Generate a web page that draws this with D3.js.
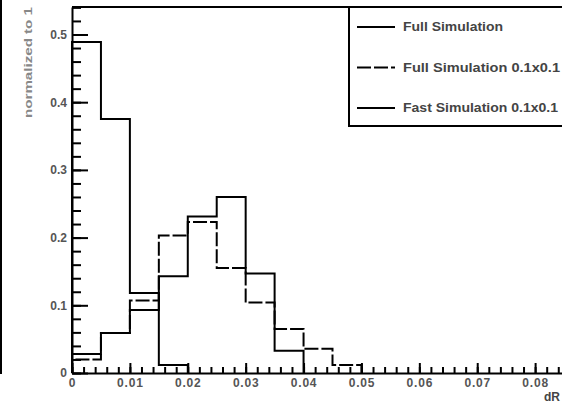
<!DOCTYPE html>
<html>
<head>
<meta charset="utf-8">
<script src="https://d3js.org/d3.v7.min.js"></script>
<style>
    body { margin: 0; background: #fff; }
    svg { display: block; }
    .axis path, .axis line { stroke: #000; stroke-width: 2px; }
    .axis text { font-family: "Liberation Sans", Arial, sans-serif; font-size: 12px; font-weight: bold; fill: #555; }
    .hist { fill: none; stroke: #000; stroke-width: 2px; }
</style>
</head>
<body>
<svg id="chart" width="562" height="405"></svg>
<script>
// bins of 0.005 in dR, starting at 0
var binWidth = 0.005;
var fullSim = [0.489, 0.375, 0.118, 0.012];
var fullSim01 = [0.020, 0.059, 0.107, 0.203, 0.223, 0.155, 0.104, 0.065, 0.036, 0.012];
var fastSim01 = [0.028, 0.059, 0.093, 0.143, 0.231, 0.260, 0.147, 0.033];

var series = [
    { name: "Full Simulation", values: fullSim, dash: null },
    { name: "Full Simulation 0.1x0.1", values: fullSim01, dash: "14,3" },
    { name: "Fast Simulation 0.1x0.1", values: fastSim01, dash: null }
];
var legendWidths = [100, 157, 155];

var xTicks = [0, 0.01, 0.02, 0.03, 0.04, 0.05, 0.06, 0.07, 0.08];
var xTickLabels = ["0", "0.01", "0.02", "0.03", "0.04", "0.05", "0.06", "0.07", "0.08"];
var yTicks = [0, 0.1, 0.2, 0.3, 0.4, 0.5];
var yTickLabels = ["0", "0.1", "0.2", "0.3", "0.4", "0.5"];

var svg = d3.select("#chart");

var x = d3.scaleLinear().domain([0, 0.09]).range([72, 593]);
var y = d3.scaleLinear().domain([0, 0.5406]).range([373, 7]);

// piece of the neighbouring pad on the left
svg.append("line")
    .attr("x1", 1).attr("x2", 1)
    .attr("y1", 0).attr("y2", 374)
    .attr("stroke", "#000")
    .attr("stroke-width", 2);

// frame top
svg.append("line")
    .attr("x1", x(0)).attr("x2", x(0.09))
    .attr("y1", y(0.5406)).attr("y2", y(0.5406))
    .attr("stroke", "#000")
    .attr("stroke-width", 2);

var line = d3.line()
    .x(function(d) { return x(d[0]); })
    .y(function(d) { return y(d[1]); });

function steps(values) {
    var pts = [[0, 0]];
    values.forEach(function(v, i) {
        pts.push([i * binWidth, v]);
        pts.push([(i + 1) * binWidth, v]);
    });
    pts.push([values.length * binWidth, 0]);
    return pts;
}

svg.append("g")
    .selectAll("path")
    .data(series)
    .enter().append("path")
    .attr("class", "hist")
    .attr("d", function(d) { return line(steps(d.values)); })
    .attr("stroke-dasharray", function(d) { return d.dash; });

// minor ticks
svg.append("g")
    .attr("class", "axis")
    .attr("transform", "translate(0," + y(0) + ")")
    .call(d3.axisBottom(x)
        .tickValues(d3.range(0, 0.0901, 0.002))
        .tickSizeInner(-6).tickSizeOuter(0)
        .tickFormat(""))
    .select(".domain").remove();

svg.append("g")
    .attr("class", "axis")
    .attr("transform", "translate(" + x(0) + ",0)")
    .call(d3.axisLeft(y)
        .tickValues(d3.range(0, 0.5401, 0.02))
        .tickSizeInner(-9).tickSizeOuter(0)
        .tickFormat(""))
    .select(".domain").remove();

// major ticks and labels
svg.append("g")
    .attr("class", "axis")
    .attr("transform", "translate(0," + y(0) + ")")
    .call(d3.axisBottom(x)
        .tickValues(xTicks)
        .tickSizeInner(-10).tickSizeOuter(0)
        .tickPadding(5)
        .tickFormat(function(d, i) { return xTickLabels[i]; }))
    .selectAll("text")
    .style("letter-spacing", "0.8px");

svg.append("g")
    .attr("class", "axis")
    .attr("transform", "translate(" + x(0) + ",0)")
    .call(d3.axisLeft(y)
        .tickValues(yTicks)
        .tickSizeInner(-16).tickSizeOuter(0)
        .tickPadding(5)
        .tickFormat(function(d, i) { return yTickLabels[i]; }));

// axis titles
svg.append("text")
    .attr("transform", "translate(32,7) rotate(-90)")
    .attr("text-anchor", "end")
    .attr("textLength", 111)
    .attr("lengthAdjust", "spacingAndGlyphs")
    .style("font-family", "Liberation Sans, Arial, sans-serif")
    .style("font-size", "11px")
    .style("font-weight", "bold")
    .style("fill", "#888")
    .text("normalized to 1");

svg.append("text")
    .attr("x", 560)
    .attr("y", 401)
    .attr("text-anchor", "end")
    .style("font-family", "Liberation Sans, Arial, sans-serif")
    .style("font-size", "12px")
    .style("font-weight", "bold")
    .style("fill", "#444")
    .text("dR");

// legend
var legend = svg.append("g");
legend.append("rect")
    .attr("x", 349)
    .attr("y", 7)
    .attr("width", 260)
    .attr("height", 119)
    .attr("fill", "#fff")
    .attr("stroke", "#000")
    .attr("stroke-width", 2);

var rows = legend.selectAll("g.row")
    .data(series)
    .enter().append("g")
    .attr("class", "row")
    .attr("transform", function(d, i) { return "translate(0," + (27 + i * 40.5) + ")"; });

rows.append("line")
    .attr("x1", 357).attr("x2", 395)
    .attr("y1", 0).attr("y2", 0)
    .attr("stroke", "#000")
    .attr("stroke-width", 2)
    .attr("stroke-dasharray", function(d) { return d.dash; });

rows.append("text")
    .attr("x", 403)
    .attr("dy", "0.35em")
    .attr("textLength", function(d, i) { return legendWidths[i]; })
    .attr("lengthAdjust", "spacingAndGlyphs")
    .style("font-family", "Liberation Sans, Arial, sans-serif")
    .style("font-size", "12px")
    .style("font-weight", "bold")
    .style("fill", "#444")
    .text(function(d) { return d.name; });
</script>
</body>
</html>
